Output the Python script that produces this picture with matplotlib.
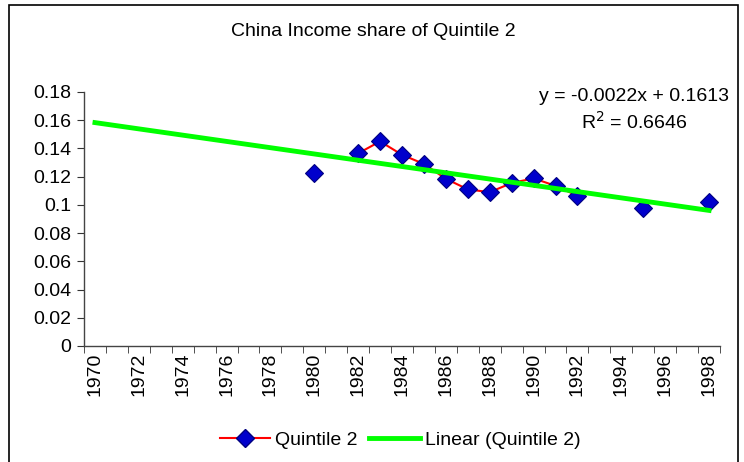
import numpy as np
import matplotlib
matplotlib.use("Agg")
import matplotlib.pyplot as plt
from matplotlib.patches import Rectangle
from matplotlib.lines import Line2D

plt.rcParams['font.family'] = ['Liberation Sans', 'DejaVu Sans']

years = list(range(1970, 1999))
data_years = [1980, 1982, 1983, 1984, 1985, 1986, 1987, 1988, 1989, 1990, 1991, 1992, 1995, 1998]
data_vals = [0.1225, 0.1365, 0.1450, 0.1355, 0.1290, 0.1185, 0.1110, 0.1090, 0.1155, 0.1188, 0.1135, 0.1065, 0.0975, 0.1020]
y_ticks = [0, 0.02, 0.04, 0.06, 0.08, 0.1, 0.12, 0.14, 0.16, 0.18]
y_tick_labels = ['0', '0.02', '0.04', '0.06', '0.08', '0.1', '0.12', '0.14', '0.16', '0.18']
title = "China Income share of Quintile 2"
eq_text = "y = -0.0022x + 0.1613"
r2_text = "R$^2$ = 0.6646"

FS = 14
W, H = 744, 462
fig = plt.figure(figsize=(W / 100, H / 100), dpi=100)
ax = fig.add_axes([84 / W, (H - 346) / H, (720 - 84) / W, (346 - 92) / H])

# full category series with gaps
idx = {y: i for i, y in enumerate(years)}
series = np.full(len(years), np.nan)
for y, v in zip(data_years, data_vals):
    series[idx[y]] = v
x = np.arange(len(years))

ax.plot(x, series, color='#ff0000', lw=1.5, zorder=3)
ax.plot(x, series, linestyle='none', marker='D', ms=9, mfc='#0000cc', mec='#000080',
        mew=0.8, zorder=4)

# linear trend (Excel category index 1..N)
xi = np.array([idx[y] + 1 for y in data_years], dtype=float)
slope, intercept = np.polyfit(xi, np.array(data_vals), 1)
xt = np.arange(1, len(years) + 1)
ax.plot(xt - 1, slope * xt + intercept, color='#00ff00', lw=3.5, zorder=5)

ax.set_xlim(-0.5, len(years) - 0.5)
ax.set_ylim(0, 0.18)
ax.set_yticks(y_ticks)
ax.set_yticklabels(y_tick_labels, fontsize=FS)
ax.set_xticks(x[::2])
ax.set_xticklabels([str(y) for y in years[::2]], rotation=90, fontsize=FS)
ax.set_xticks(np.arange(-0.5, len(years)), minor=True)
ax.tick_params(axis='x', which='major', length=0, pad=5)
ax.tick_params(axis='x', which='minor', length=5, direction='out', color='#333333')
ax.tick_params(axis='y', length=5, direction='out', color='#333333', pad=4)
for s in ['top', 'right']:
    ax.spines[s].set_visible(False)
for s in ['left', 'bottom']:
    ax.spines[s].set_color('#444444')
    ax.spines[s].set_linewidth(1.0)

fig.text(373 / W, 1 - 31 / H, title, ha='center', va='center', fontsize=FS)
fig.text(634 / W, 1 - 96 / H, eq_text, ha='center', va='center', fontsize=FS)
fig.text(634 / W, 1 - 122 / H, r2_text, ha='center', va='center', fontsize=FS)

# legend
handles = [Line2D([0], [0], color='#ff0000', lw=1.5, marker='D', ms=9, mfc='#0000cc', mec='#000080'),
           Line2D([0], [0], color='#00ff00', lw=3.5)]
fig.legend(handles, ['Quintile 2', 'Linear (Quintile 2)'], loc='center',
           bbox_to_anchor=(400 / W, 1 - 440 / H), ncol=2, frameon=False, fontsize=FS,
           handlelength=2.6, handletextpad=0.25, columnspacing=0.6)

# chart border
fig.patches.append(Rectangle((9 / W, -0.05), (738 - 9) / W, 1 - 5 / H + 0.05,
                             transform=fig.transFigure, fill=False, ec='black', lw=1.2))

fig.savefig('out.png', dpi=100)
